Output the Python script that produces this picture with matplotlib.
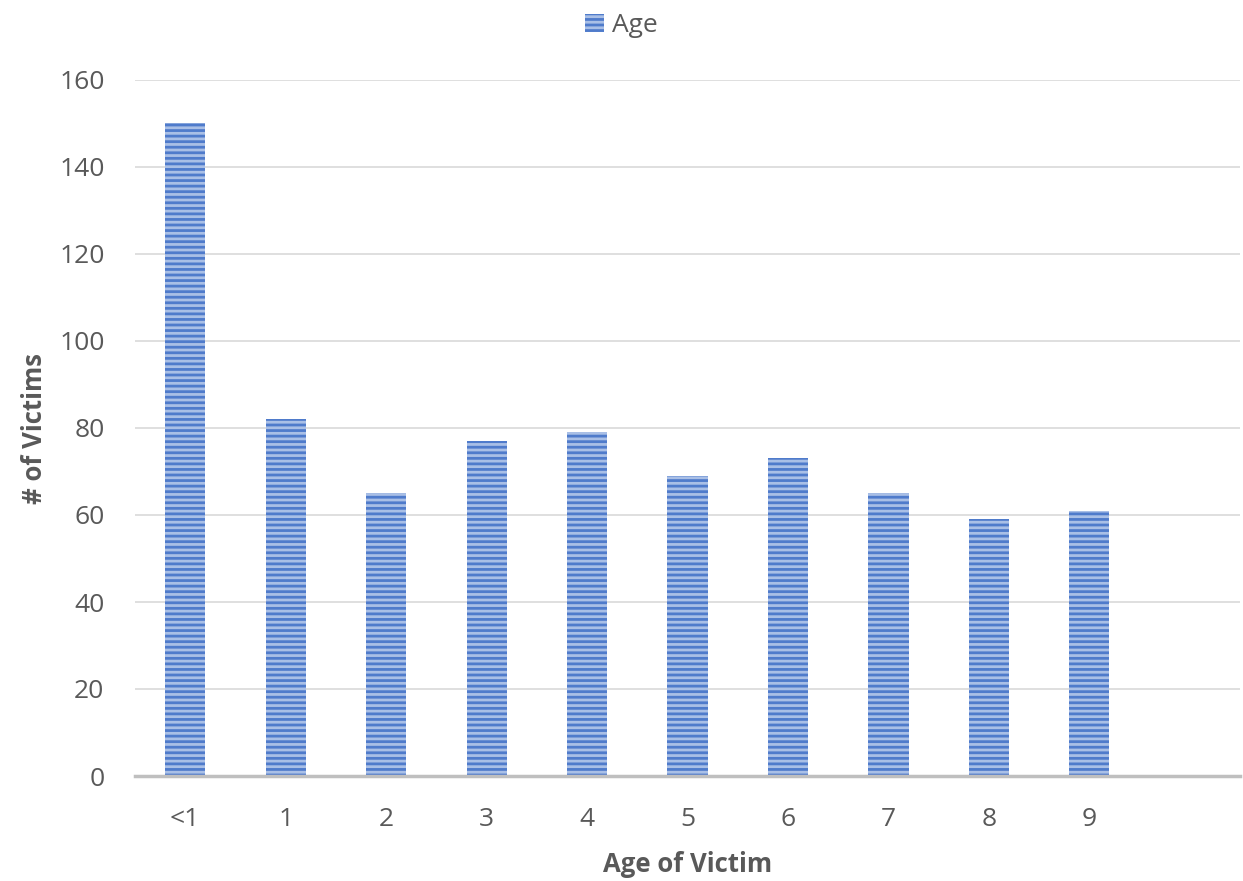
import matplotlib
matplotlib.use("Agg")
import matplotlib.pyplot as plt
from matplotlib.patches import Patch

categories = ["<1", "1", "2", "3", "4", "5", "6", "7", "8", "9", ""]
values = [150, 82, 65, 77, 79, 69, 73, 65, 59, 61, 0]
yticks = [0, 20, 40, 60, 80, 100, 120, 140, 160]

plt.rcParams['font.family'] = ['Open Sans', 'DejaVu Sans']
plt.rcParams['hatch.linewidth'] = 2.0
plt.rcParams['hatch.color'] = '#4F7BCB'

fig = plt.figure(figsize=(12.43, 8.81), dpi=100)
ax = fig.add_axes([135/1243, 1-776/881, 1105/1243, 696/881])

x = list(range(len(categories)))
ax.bar(x, values, width=0.4, color='#A9BFE6', edgecolor='#4F7BCB',
       hatch='---', linewidth=0, zorder=3)

ax.set_xlim(-0.5, len(categories) - 0.5)
ax.set_ylim(0, 160)
ax.set_yticks(yticks)
ax.set_xticks(x)
ax.set_xticklabels(categories)
ax.tick_params(axis='both', length=0, labelsize=19, colors='#595959')
ax.tick_params(axis='x', pad=22)
ax.tick_params(axis='y', pad=22)
ax.grid(axis='y', color='#D9D9D9', linewidth=1.2, zorder=0)
for s in ['left', 'right', 'top']:
    ax.spines[s].set_visible(False)
ax.spines['bottom'].set_color('#BFBFBF')
ax.spines['bottom'].set_linewidth(2.5)
ax.spines['bottom'].set_zorder(4)

ax.set_xlabel('Age of Victim', fontsize=18.5, fontweight='bold', color='#595959', labelpad=14)
ax.set_ylabel('# of Victims', fontsize=18.5, fontweight='bold', color='#595959', labelpad=8)

handle = Patch(facecolor='#A9BFE6', edgecolor='#4F7BCB', hatch='---', linewidth=0)
fig.legend(handles=[handle], labels=['Age'], loc='upper center', bbox_to_anchor=(0.5, 1.012),
           frameon=False, fontsize=19, labelcolor='#595959', handlelength=0.7,
           handleheight=0.7, handletextpad=0.3)

fig.savefig('out.png', dpi=100)
